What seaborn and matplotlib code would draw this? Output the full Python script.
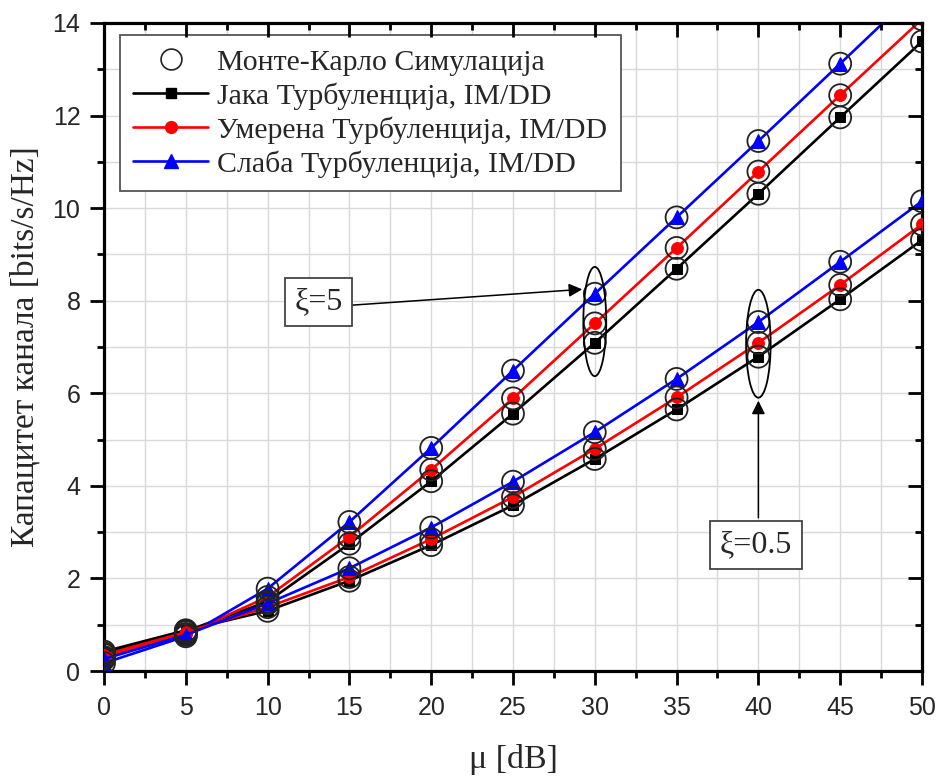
import numpy as np
import pandas as pd
import matplotlib
matplotlib.use("Agg")
import matplotlib.pyplot as plt
import seaborn as sns
from matplotlib.patches import Ellipse
from matplotlib.lines import Line2D
from matplotlib.ticker import MultipleLocator

mu = [0, 5, 10, 15, 20, 25, 30, 35, 40, 45, 50]

# xi = 5
strong_x5 = [0.38, 0.86, 1.50, 2.75, 4.10, 5.56, 7.09, 8.69, 10.31, 11.96, 13.60]
moder_x5 = [0.30, 0.80, 1.60, 2.90, 4.35, 5.89, 7.51, 9.14, 10.79, 12.44, 14.08]
weak_x5 = [0.17, 0.75, 1.78, 3.22, 4.82, 6.49, 8.15, 9.80, 11.45, 13.12, 14.80]

# xi = 0.5
strong_x05 = [0.42, 0.88, 1.30, 1.95, 2.72, 3.58, 4.58, 5.65, 6.79, 8.03, 9.31]
moder_x05 = [0.35, 0.84, 1.38, 2.03, 2.85, 3.76, 4.80, 5.91, 7.09, 8.34, 9.65]
weak_x05 = [0.26, 0.78, 1.46, 2.22, 3.10, 4.09, 5.16, 6.31, 7.54, 8.84, 10.15]

# Monte Carlo simulation points (same grid)
mc_values = strong_x5 + moder_x5 + weak_x5 + strong_x05 + moder_x05 + weak_x05
mc_mu = mu * 6

labels = ["Монте-Карло Симулација", "Јака Турбуленција, IM/DD",
          "Умерена Турбуленција, IM/DD", "Слаба Турбуленција, IM/DD"]

sns.set_theme(style="white")
plt.rcParams['font.family'] = ['Liberation Sans', 'DejaVu Sans']

fig = plt.figure(figsize=(9.43, 7.76), dpi=100)
rect = [0.1103, 0.1353, 0.8674, 0.8351]
ax = fig.add_axes(rect)

series = [
    (strong_x5, "black", "s", 7.5),
    (moder_x5, "red", "o", 8.5),
    (weak_x5, "blue", "^", 10),
    (strong_x05, "black", "s", 7.5),
    (moder_x05, "red", "o", 8.5),
    (weak_x05, "blue", "^", 10),
]
for vals, col, mk, ms in series:
    sns.lineplot(x=mu, y=vals, color=col, marker=mk, markersize=ms,
                 markeredgecolor=col, linewidth=1.9, ax=ax, zorder=3)

mc_df = pd.DataFrame({"mu": mc_mu, "c": mc_values})
sns.scatterplot(data=mc_df, x="mu", y="c", s=250, facecolors="none",
                edgecolor="#222222", linewidth=1.3, marker="o", ax=ax, zorder=4)

def setup_locators(a):
    a.set_xlim(0, 50)
    a.set_ylim(0, 14)
    a.xaxis.set_major_locator(MultipleLocator(5))
    a.xaxis.set_minor_locator(MultipleLocator(2.5))
    a.yaxis.set_major_locator(MultipleLocator(2))
    a.yaxis.set_minor_locator(MultipleLocator(1))

setup_locators(ax)
ax.grid(True, which="both", color="#d9d9d9", linewidth=1.0)
ax.set_axisbelow(True)
ax.tick_params(which="both", direction="out", width=2.0, color="black",
               bottom=True, left=True, top=False, right=False)
ax.tick_params(which="major", length=10, labelsize=18)
ax.tick_params(axis="x", which="major", pad=8)
ax.tick_params(axis="y", which="major", pad=7)
ax.tick_params(which="minor", length=5)
for s in ax.spines.values():
    s.set_color("black")
    s.set_linewidth(2.3)

# overlay axes for inward ticks on top and right
ax2 = fig.add_axes(rect, frameon=False)
setup_locators(ax2)
ax2.patch.set_visible(False)
ax2.grid(False)
ax2.tick_params(which="both", direction="in", width=2.0, color="black",
                bottom=False, left=False, top=True, right=True,
                labelbottom=False, labelleft=False, labeltop=False, labelright=False)
ax2.tick_params(which="major", length=10)
ax2.tick_params(which="minor", length=5)

serif = ['Liberation Serif', 'DejaVu Serif']
ax.set_xlabel("μ [dB]", fontsize=24.5, family=serif, labelpad=17)
ax.set_ylabel("Капацитет канала [bits/s/Hz]", fontsize=24, family=serif, labelpad=9)

# ellipses and annotations
ax.add_patch(Ellipse((30, 7.55), 1.4, 2.36, fill=False, edgecolor="black", linewidth=1.3, zorder=5))
ax.add_patch(Ellipse((40, 7.07), 1.5, 2.33, fill=False, edgecolor="black", linewidth=1.3, zorder=5))

bbox = dict(boxstyle="square,pad=0.3", facecolor="white", edgecolor="#444444", linewidth=1.3)
ax.annotate("", xy=(29.4, 8.25), xytext=(15.0, 7.9),
            arrowprops=dict(arrowstyle="-|>", color="black", lw=1.1, mutation_scale=20), zorder=6)
ax.text(13.1, 7.98, "ξ=5", fontsize=23, family=serif, ha="center", va="center",
        bbox=bbox, zorder=7)
ax.annotate("", xy=(40, 5.9), xytext=(40, 3.25),
            arrowprops=dict(arrowstyle="-|>", color="black", lw=1.1, mutation_scale=20), zorder=6)
ax.text(39.85, 2.72, "ξ=0.5", fontsize=23, family=serif, ha="center", va="center",
        bbox=bbox, zorder=7)

handles = [
    Line2D([], [], linestyle="none", marker="o", markersize=15, markerfacecolor="none",
           markeredgecolor="#222222", markeredgewidth=1.2),
    Line2D([], [], color="black", marker="s", markersize=7.5, linewidth=1.9),
    Line2D([], [], color="red", marker="o", markersize=8.5, linewidth=1.9),
    Line2D([], [], color="blue", marker="^", markersize=10, linewidth=1.9),
]
leg = ax.legend(handles, labels, loc="upper left", bbox_to_anchor=(0.0196, 0.981),
                prop={"family": serif, "size": 21.5}, frameon=True, fancybox=False,
                edgecolor="#555555", framealpha=1, handlelength=2.5,
                handletextpad=0.3, borderpad=0.45, labelspacing=0.22,
                borderaxespad=0)
leg.get_frame().set_linewidth(1.3)
leg.set_zorder(10)

fig.savefig("out.png", dpi=100)
